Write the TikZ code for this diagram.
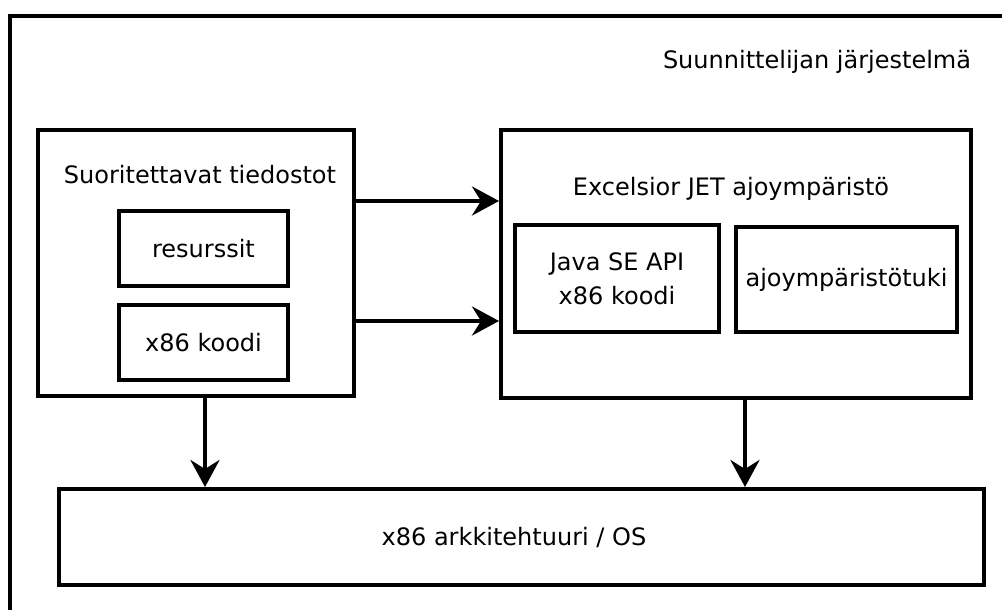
\documentclass[tikz,border=0pt]{standalone}
\usepackage{fontspec}
\setmainfont{DejaVu Sans}
\usetikzlibrary{arrows.meta}

\tikzset{
  box/.style={draw, rectangle, line width=4pt, inner sep=0pt},
  lbl/.style={inner sep=0pt},
  flow/.style={line width=4pt, -{Stealth[length=27pt, width=29pt, inset=9pt]}}
}

\begin{document}
\begin{tikzpicture}[x=1pt, y=-1pt, font=\fontsize{24}{34}\selectfont]
      \useasboundingbox (0,0) rectangle (1002,610);
      % system frame (runs off the page on the right and at the bottom)
      \draw[line width=4pt] (10,612) -- (10,16) -- (1004,16);
      \node[lbl] (sys) at (817,62) {Suunnittelijan järjestelmä};

      \node[box, minimum width=316pt, minimum height=266pt] (suor) at (196,263) {};
      \node[lbl] (suort) at (200,175) {Suoritettavat tiedostot};
      \node[box, minimum width=169pt, minimum height=75pt] (res) at (203.5,248.5) {resurssit};
      \node[box, minimum width=169pt, minimum height=75pt] (koodi) at (203.5,342.5) {x86 koodi};

      \node[box, minimum width=470pt, minimum height=268pt] (jet) at (736,264) {};
      \node[lbl] (jett) at (731,189) {Excelsior JET ajoympäristö};
      \node[box, minimum width=204pt, minimum height=107pt, align=center] (api) at (617,278.5) {Java SE API\\x86 koodi};
      \node[box, minimum width=221pt, minimum height=105pt] (tuki) at (846.5,279.5) {ajoympäristötuki};

      \node[box, minimum width=925pt, minimum height=96pt] (arch) at (521.5,537) {};
      \node[lbl] (archt) at (514,537) {x86 arkkitehtuuri / OS};

      \coordinate (a1) at (0,201);
      \coordinate (a2) at (0,321);
      \coordinate (d1) at (205,0);
      \coordinate (d2) at (745,0);

      \draw[flow] (suor.east |- a1) -- (jet.west |- a1);
      \draw[flow] (suor.east |- a2) -- (jet.west |- a2);
      \draw[flow] (suor.south -| d1) -- (arch.north -| d1);
      \draw[flow] (jet.south -| d2) -- (arch.north -| d2);
    \end{tikzpicture}
\end{document}
